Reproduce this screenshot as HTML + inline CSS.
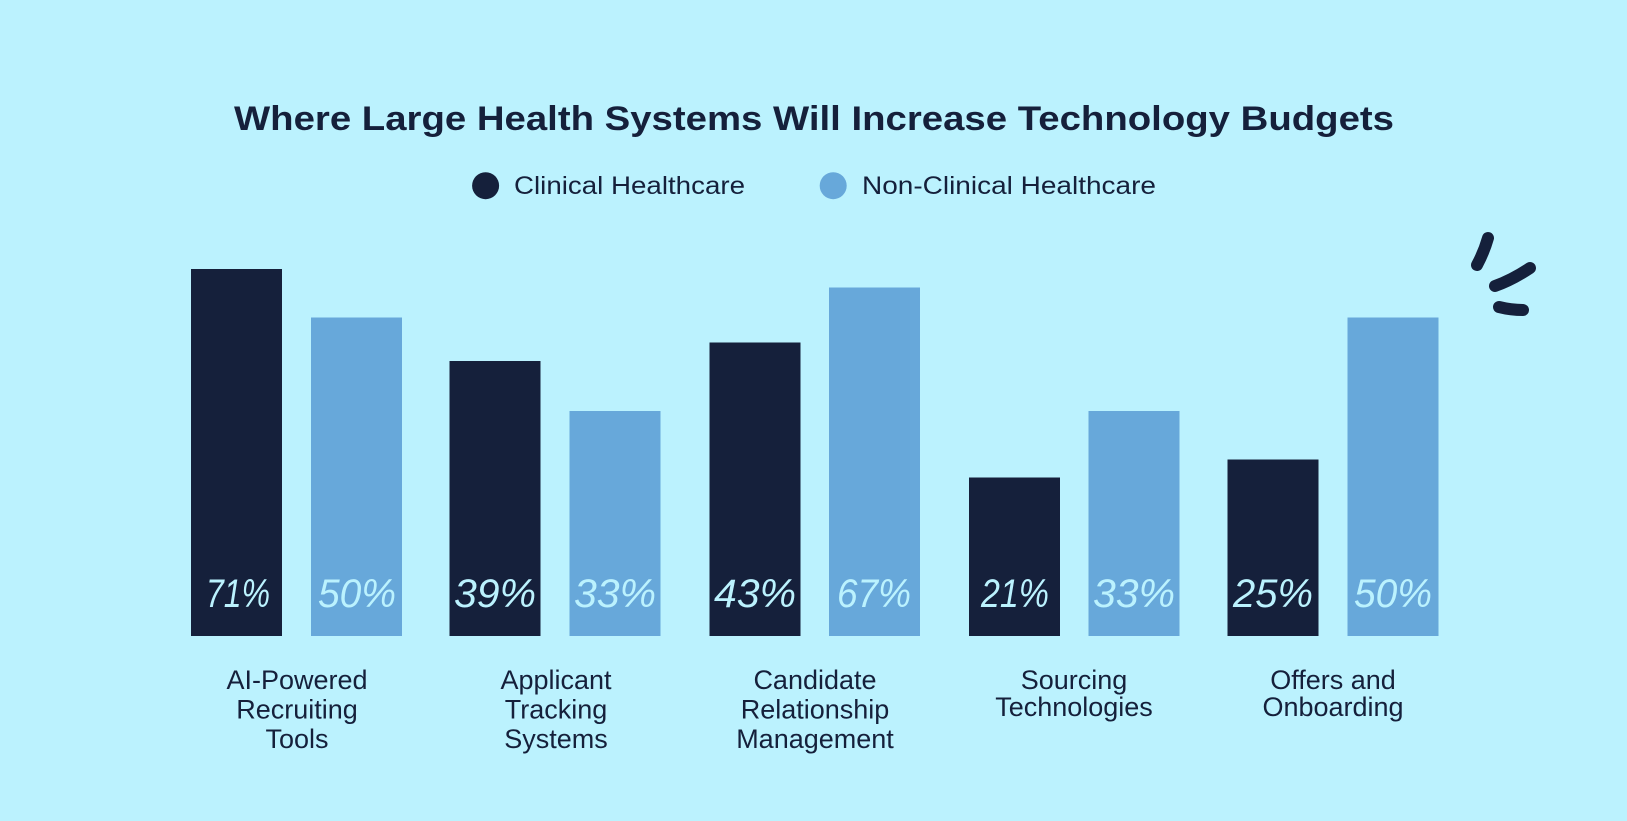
<!DOCTYPE html>
<html><head><meta charset="utf-8"><style>
html,body{margin:0;padding:0;background:#bbf2fe;}
svg{display:block}
</style></head><body>
<svg width="1627" height="821" viewBox="0 0 1627 821" xmlns="http://www.w3.org/2000/svg">
<rect width="1627" height="821" fill="#bbf2fe"/>
<text x="814" y="130" text-anchor="middle" font-family="Liberation Sans, sans-serif" font-weight="bold" font-size="34" fill="#15203b" textLength="1160" lengthAdjust="spacingAndGlyphs">Where Large Health Systems Will Increase Technology Budgets</text>
<circle cx="485.6" cy="185.7" r="13.5" fill="#15203b"/>
<text x="514" y="194" font-family="Liberation Sans, sans-serif" font-size="25" fill="#15203b" textLength="231" lengthAdjust="spacingAndGlyphs">Clinical Healthcare</text>
<circle cx="833.2" cy="185.7" r="13.5" fill="#67a8da"/>
<text x="862" y="194" font-family="Liberation Sans, sans-serif" font-size="25" fill="#15203b" textLength="294" lengthAdjust="spacingAndGlyphs">Non-Clinical Healthcare</text>
<g stroke="#15203b" stroke-width="12" stroke-linecap="round" fill="none">
<path d="M1488 238 Q1484 252 1477 265"/>
<path d="M1530 268 Q1512 280 1495 286"/>
<path d="M1499 307 Q1511 310 1523 310"/>
</g>
<g fill="#15203b">
<rect x="191" y="269" width="91" height="367"/>
<rect x="449.5" y="361" width="91" height="275"/>
<rect x="709.5" y="342.5" width="91" height="293.5"/>
<rect x="969" y="477.5" width="91" height="158.5"/>
<rect x="1227.5" y="459.5" width="91" height="176.5"/>
</g>
<g fill="#67a8da">
<rect x="311" y="317.5" width="91" height="318.5"/>
<rect x="569.5" y="411" width="91" height="225"/>
<rect x="829" y="287.5" width="91" height="348.5"/>
<rect x="1088.5" y="411" width="91" height="225"/>
<rect x="1347.5" y="317.5" width="91" height="318.5"/>
</g>
<g font-family="Liberation Sans, sans-serif" font-style="italic" font-size="40" fill="#bbf2fe" text-anchor="middle">
<text x="238" y="607" textLength="64" lengthAdjust="spacingAndGlyphs">71%</text>
<text x="357" y="607" textLength="78" lengthAdjust="spacingAndGlyphs">50%</text>
<text x="495" y="607" textLength="82" lengthAdjust="spacingAndGlyphs">39%</text>
<text x="615" y="607" textLength="82" lengthAdjust="spacingAndGlyphs">33%</text>
<text x="755" y="607" textLength="82" lengthAdjust="spacingAndGlyphs">43%</text>
<text x="874" y="607" textLength="74" lengthAdjust="spacingAndGlyphs">67%</text>
<text x="1015" y="607" textLength="68" lengthAdjust="spacingAndGlyphs">21%</text>
<text x="1134" y="607" textLength="82" lengthAdjust="spacingAndGlyphs">33%</text>
<text x="1273" y="607" textLength="80" lengthAdjust="spacingAndGlyphs">25%</text>
<text x="1393" y="607" textLength="78" lengthAdjust="spacingAndGlyphs">50%</text>
</g>
<g font-family="Liberation Sans, sans-serif" font-size="27" fill="#15203b" text-anchor="middle">
<text x="297" y="689">AI-Powered</text><text x="297" y="718.5">Recruiting</text><text x="297" y="748">Tools</text>
<text x="556" y="689">Applicant</text><text x="556" y="718.5">Tracking</text><text x="556" y="748">Systems</text>
<text x="815" y="689">Candidate</text><text x="815" y="718.5">Relationship</text><text x="815" y="748">Management</text>
<text x="1074" y="689">Sourcing</text><text x="1074" y="716">Technologies</text>
<text x="1333" y="689">Offers and</text><text x="1333" y="716">Onboarding</text>
</g>
</svg>
</body></html>
